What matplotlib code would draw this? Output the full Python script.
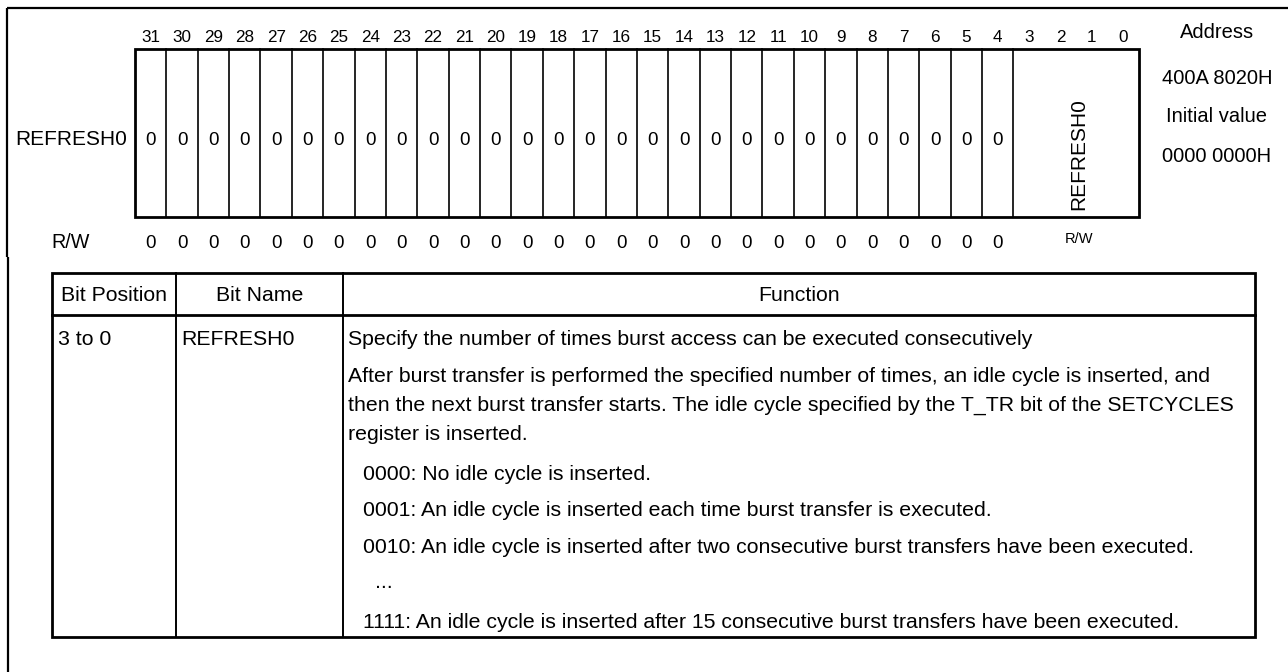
import matplotlib
matplotlib.use("Agg")
import matplotlib.pyplot as plt

plt.rcParams['font.family'] = ['Liberation Sans', 'DejaVu Sans']

# register data
reg_name = "REFRESH0"
bit_numbers = list(range(31, -1, -1))
reserved_bits = list(range(31, 3, -1))
reserved_values = ["0"] * 28
reserved_rw = ["0"] * 28
field_name = "REFRESH0"
field_bits = (3, 0)
field_rw = "R/W"
address = "400A 8020H"
initial_value = "0000 0000H"

# table data
headers = ["Bit Position", "Bit Name", "Function"]
row_position = "3 to 0"
row_name = "REFRESH0"
function_lines = [
    "Specify the number of times burst access can be executed consecutively",
    "After burst transfer is performed the specified number of times, an idle cycle is inserted, and",
    "then the next burst transfer starts. The idle cycle specified by the T_TR bit of the SETCYCLES",
    "register is inserted.",
]
option_lines = [
    "0000: No idle cycle is inserted.",
    "0001: An idle cycle is inserted each time burst transfer is executed.",
    "0010: An idle cycle is inserted after two consecutive burst transfers have been executed.",
    "...",
    "1111: An idle cycle is inserted after 15 consecutive burst transfers have been executed.",
]

# layout (pixels)
W, H = 1288, 672
box_l, box_r, box_t, box_b = 135, 1139, 49, 217
bw = (box_r - box_l) / 32.0
tab_l, tab_c1, tab_c2, tab_r = 52, 176, 343, 1255
tab_t, tab_hb, tab_b = 273, 315, 637

fig = plt.figure(figsize=(W / 100, H / 100), dpi=100)
ax = fig.add_axes([0, 0, 1, 1])
ax.set_xlim(0, W)
ax.set_ylim(H, 0)
ax.axis('off')

def bit_x(b):
    return box_l + (31 - b + 0.5) * bw

# outer frame (top and left only)
ax.plot([7, W], [8, 8], color='black', lw=1.6, solid_capstyle='butt')
ax.plot([7, 7], [8, 257], color='black', lw=1.6, solid_capstyle='butt')
ax.plot([8, 8], [257, H], color='black', lw=1.6, solid_capstyle='butt')

# bit numbers
for b in bit_numbers:
    ax.text(bit_x(b), 42, str(b), ha='center', va='baseline', fontsize=12.3)

# register box
ax.add_patch(plt.Rectangle((box_l, box_t), box_r - box_l, box_b - box_t,
                           fill=False, lw=2.0, ec='black'))
for b in reserved_bits:
    x = box_l + (31 - b + 1) * bw
    ax.plot([x, x], [box_t, box_b], color='black', lw=1.2)

for b, v in zip(reserved_bits, reserved_values):
    ax.text(bit_x(b), 145, v, ha='center', va='baseline', fontsize=13.5)
for b, v in zip(reserved_bits, reserved_rw):
    ax.text(bit_x(b), 248, v, ha='center', va='baseline', fontsize=13.5)

fx = (bit_x(field_bits[0]) + bit_x(field_bits[1])) / 2 + 3
ax.text(fx, 154, field_name, ha='center', va='center', rotation=90, fontsize=15)
ax.text(fx, 243, field_rw, ha='center', va='baseline', fontsize=10.5)

ax.text(127, 145, reg_name, ha='right', va='baseline', fontsize=15)
ax.text(71, 248, "R/W", ha='center', va='baseline', fontsize=14.2)

rx = 1217
ax.text(rx, 38, "Address", ha='center', va='baseline', fontsize=14.5)
ax.text(rx, 84, address, ha='center', va='baseline', fontsize=14.5)
ax.text(rx, 122, "Initial value", ha='center', va='baseline', fontsize=14.5)
ax.text(rx, 162, initial_value, ha='center', va='baseline', fontsize=14.5)

# table
ax.add_patch(plt.Rectangle((tab_l, tab_t), tab_r - tab_l, tab_b - tab_t,
                           fill=False, lw=2.0, ec='black'))
ax.plot([tab_l, tab_r], [tab_hb, tab_hb], color='black', lw=2.0)
for x in (tab_c1, tab_c2):
    ax.plot([x, x], [tab_t, tab_b], color='black', lw=1.4)

fs = 15.35
ax.text((tab_l + tab_c1) / 2, 301, headers[0], ha='center', va='baseline', fontsize=fs)
ax.text((tab_c1 + tab_c2) / 2, 301, headers[1], ha='center', va='baseline', fontsize=fs)
ax.text((tab_c2 + tab_r) / 2, 301, headers[2], ha='center', va='baseline', fontsize=fs)

ax.text(58, 345, row_position, ha='left', va='baseline', fontsize=fs)
ax.text(181, 345, row_name, ha='left', va='baseline', fontsize=fs)

func_y = [345, 382, 411, 440]
for y, line in zip(func_y, function_lines):
    ax.text(348, y, line, ha='left', va='baseline', fontsize=fs)

opt_y = [480, 516, 553, 588, 628]
for y, line in zip(opt_y, option_lines):
    x = 375 if line == "..." else 363
    ax.text(x, y, line, ha='left', va='baseline', fontsize=fs)

fig.savefig("out.png", dpi=100)
